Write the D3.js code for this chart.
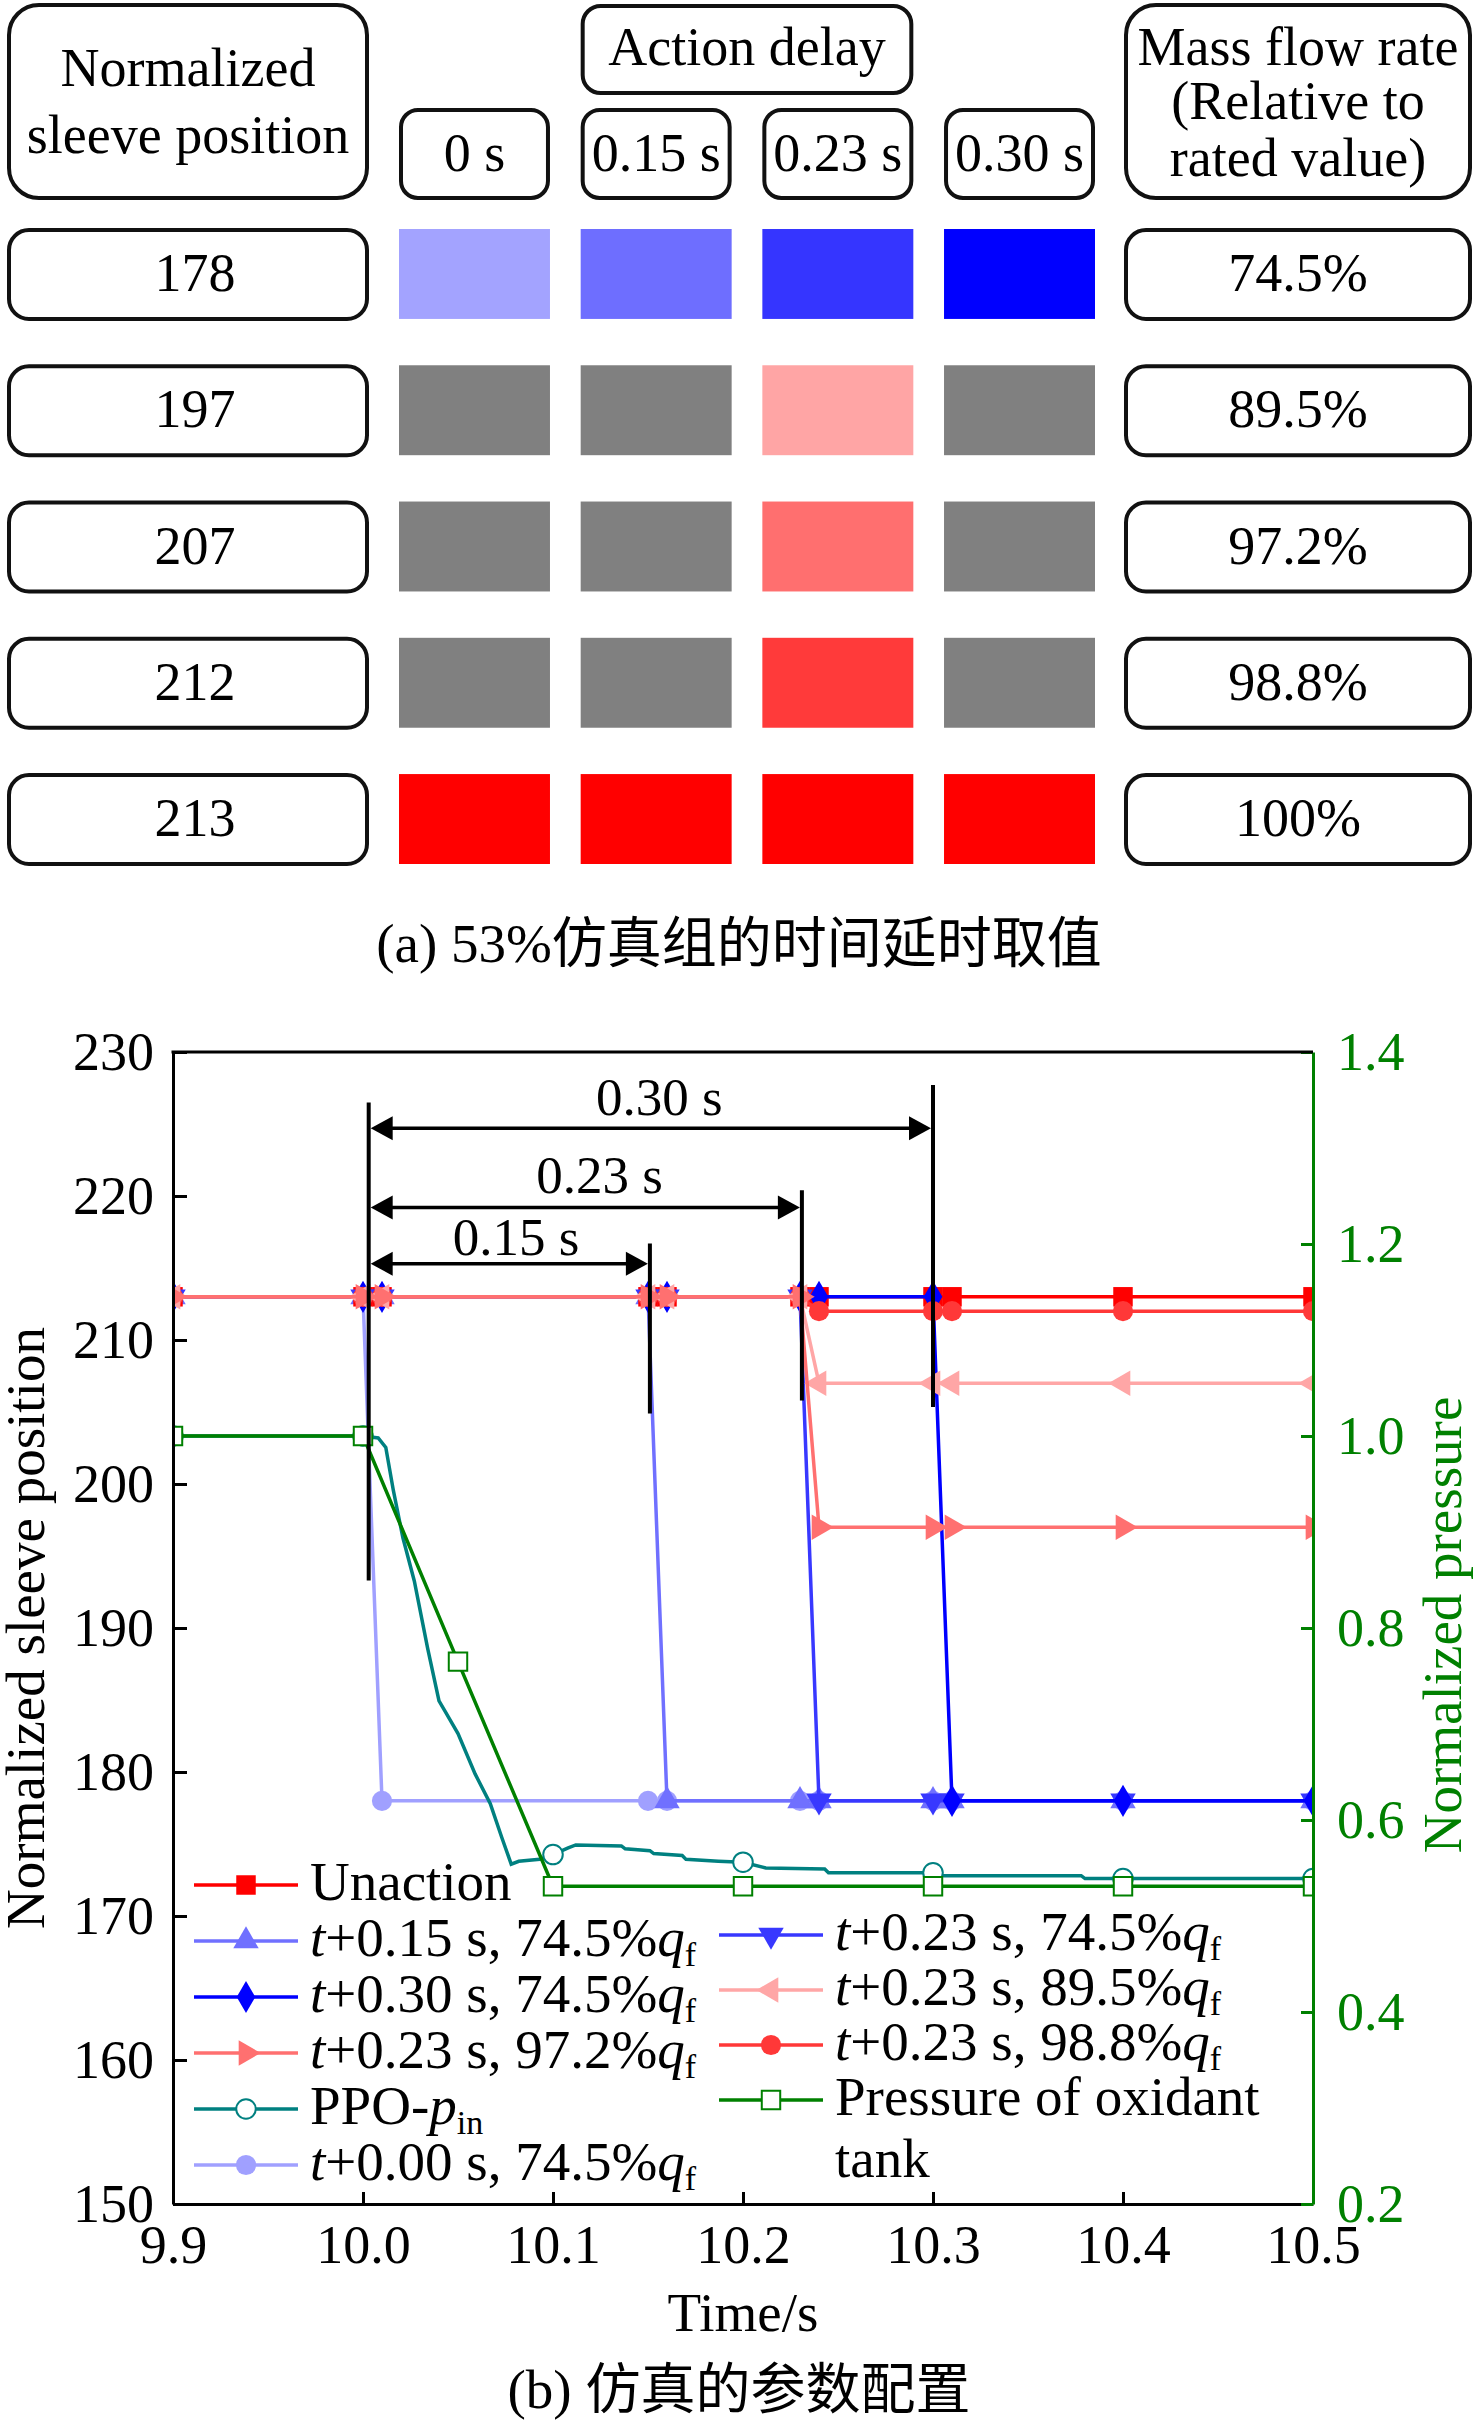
<!DOCTYPE html>
<html>
<head>
<meta charset="utf-8">
<script src="https://cdn.jsdelivr.net/npm/d3@7"></script>
<style>
  body { margin: 0; background: #fff; }
  svg { display: block; }
  text { font-family: "Liberation Serif", "Times New Roman", "Noto Sans CJK SC", serif; }
</style>
</head>
<body>
<svg id="chart" width="1476" height="2424"></svg>
<script>
// ---------- (a) table data
const sleevePositions = ["178", "197", "207", "212", "213"];
const delayLabels = ["0 s", "0.15 s", "0.23 s", "0.30 s"];
const flowRates = ["74.5%", "89.5%", "97.2%", "98.8%", "100%"];
// which delay/position combination was simulated, per row
const cellState = [
    ["b0", "b1", "b2", "b3"],
    ["off", "off", "r1", "off"],
    ["off", "off", "r2", "off"],
    ["off", "off", "r3", "off"],
    ["r4", "r4", "r4", "r4"]
];

// ---------- (b) chart data
const sampleT = [9.9, 10.0, 10.01, 10.15, 10.16, 10.23, 10.24, 10.30, 10.31, 10.40, 10.50];
const posUnaction = [213, 213, 213, 213, 213, 213, 213, 213, 213, 213, 213];
const pos000 = [213, 213, 178, 178, 178, 178, 178, 178, 178, 178, 178];
const pos015 = [213, 213, 213, 213, 178, 178, 178, 178, 178, 178, 178];
const pos023_745 = [213, 213, 213, 213, 213, 213, 178, 178, 178, 178, 178];
const pos030 = [213, 213, 213, 213, 213, 213, 213, 213, 178, 178, 178];
const pos023_895 = [213, 213, 213, 213, 213, 213, 207, 207, 207, 207, 207];
const pos023_972 = [213, 213, 213, 213, 213, 213, 197, 197, 197, 197, 197];
const pos023_988 = [213, 213, 213, 213, 213, 213, 212, 212, 212, 212, 212];

const ppoT = [9.9, 10.0, 10.008, 10.012, 10.016, 10.021, 10.027, 10.034, 10.040, 10.043,
    10.050, 10.059, 10.067, 10.073, 10.078, 10.082, 10.093, 10.1, 10.108, 10.112,
    10.136, 10.138, 10.151, 10.153, 10.168, 10.170, 10.187, 10.2, 10.212, 10.243,
    10.245, 10.3, 10.303, 10.378, 10.380, 10.4, 10.5];
const ppoP = [1.0, 1.0, 0.998, 0.988, 0.943, 0.894, 0.849, 0.779, 0.724, 0.714,
    0.690, 0.648, 0.617, 0.582, 0.554, 0.557, 0.559, 0.564, 0.571, 0.574,
    0.573, 0.570, 0.568, 0.565, 0.563, 0.559, 0.557, 0.556, 0.550, 0.549,
    0.545, 0.545, 0.542, 0.542, 0.539, 0.539, 0.539];
const ppoMarkT = [9.9, 10.0, 10.1, 10.2, 10.3, 10.4, 10.5];
const tankT = [9.9, 10.0, 10.05, 10.1, 10.2, 10.3, 10.4, 10.5];
const tankP = [1.0, 1.0, 0.765, 0.531, 0.531, 0.531, 0.531, 0.531];

const xTicks = [9.9, 10.0, 10.1, 10.2, 10.3, 10.4, 10.5];
const yTicks = [150, 160, 170, 180, 190, 200, 210, 220, 230];
const pTicks = [0.2, 0.4, 0.6, 0.8, 1.0, 1.2, 1.4];

// delay annotations
const markT = [10.003, 10.151, 10.231, 10.300];
const markTop = [226.5, 216.7, 220.4, 227.7];
const markBottom = [193.3, 204.9, 205.8, 205.35];
const spanLabels = ["0.30 s", "0.23 s", "0.15 s"];
const spanEndT = [10.300, 10.231, 10.151];
const spanY = [224.7, 219.2, 215.3];
const spanLabelT = [10.156, 10.1245, 10.0805];
const spanLabelY = [225.6, 220.2, 215.9];

const svg = d3.select("#chart");

// ================= (a) table =================
const colX = d3.scaleBand().domain(delayLabels).range([399, 1095]).paddingInner(0.169);
const rowY = d3.scaleBand().domain(sleevePositions).range([228, 866]).paddingInner(0.318);
const cellColor = d3.scaleOrdinal()
    .domain(["b0", "b1", "b2", "b3", "off", "r1", "r2", "r3", "r4"])
    .range(["#a3a3ff", "#6e6eff", "#3535ff", "#0000ff", "#808080", "#ffa5a5", "#ff6f6f", "#ff3a3a", "#ff0000"]);

const tbl = svg.append("g");

function box(x, y, w, h, rx) {
    tbl.append("rect")
        .attr("x", x + 2).attr("y", y + 2)
        .attr("width", w - 4).attr("height", h - 4)
        .attr("rx", rx).attr("fill", "#fff")
        .attr("stroke", "#111").attr("stroke-width", 4);
}
function lines(cx, baselines, strs, size) {
    strs.forEach((s, i) => {
        tbl.append("text").attr("x", cx).attr("y", baselines[i])
            .attr("text-anchor", "middle").attr("font-size", size).text(s);
    });
}

// header
box(7, 3, 362, 197, 30);
lines(188, [86, 153], ["Normalized", "sleeve position"], 54);
box(1124, 3, 348, 197, 30);
lines(1298, [65, 119, 176], ["Mass flow rate", "(Relative to", "rated value)"], 54);
const adX = colX(delayLabels[1]);
box(adX, 4, colX(delayLabels[2]) + colX.bandwidth() - adX, 91, 18);
lines(adX + (colX(delayLabels[2]) + colX.bandwidth() - adX) / 2, [65], ["Action delay"], 54);
delayLabels.forEach(d => {
    box(colX(d), 108, colX.bandwidth(), 92, 17);
    lines(colX(d) + colX.bandwidth() / 2, [171], [d], 54);
});

// rows
sleevePositions.forEach((p, i) => {
    const y = rowY(p), h = rowY.bandwidth();
    box(7, y, 362, h, 20);
    lines(195, [y + 63], [p], 54);
    box(1124, y, 348, h, 20);
    lines(1298, [y + 63], [flowRates[i]], 54);
    delayLabels.forEach((d, j) => {
        tbl.append("rect")
            .attr("x", colX(d)).attr("y", y + 1)
            .attr("width", colX.bandwidth()).attr("height", h - 3)
            .attr("fill", cellColor(cellState[i][j]));
    });
});

svg.append("text").attr("x", 739).attr("y", 962).attr("text-anchor", "middle")
    .attr("font-size", 55).text("(a) 53%仿真组的时间延时取值");

// ================= (b) chart =================
const L = 173, R = 1313, T = 1052, B = 2204;
const x = d3.scaleLinear().domain([9.9, 10.5]).range([L, R]);
const y = d3.scaleLinear().domain([150, 230]).range([B, T]);
const yP = d3.scaleLinear().domain([0.2, 1.4]).range([B, T]);

const green = "#008000";

svg.append("clipPath").attr("id", "plotclip")
    .append("rect").attr("x", L).attr("y", T).attr("width", R - L).attr("height", B - T);

const shapes = {
    square: { type: d3.symbolSquare, size: 380, rot: 0 },
    circle: { type: d3.symbolCircle, size: 320, rot: 0 },
    up: { type: d3.symbolTriangle, size: 280, rot: 0 },
    down: { type: d3.symbolTriangle, size: 280, rot: 180 },
    left: { type: d3.symbolTriangle, size: 280, rot: -90 },
    right: { type: d3.symbolTriangle, size: 280, rot: 90 },
    diamond: { type: d3.symbolDiamond, size: 300, rot: 0 }
};

const sleeveSeries = [
    { key: "d000", data: pos000, color: "#a0a0ff", shape: "circle" },
    { key: "d015", data: pos015, color: "#7070ff", shape: "up" },
    { key: "unaction", data: posUnaction, color: "#ff0000", shape: "square" },
    { key: "d023a", data: pos023_745, color: "#3838ff", shape: "down" },
    { key: "d030", data: pos030, color: "#0000ff", shape: "diamond" },
    { key: "d023d", data: pos023_988, color: "#ff3838", shape: "circle" },
    { key: "d023b", data: pos023_895, color: "#ffa6a6", shape: "left" },
    { key: "d023c", data: pos023_972, color: "#ff7070", shape: "right" }
];
const ppoStyle = { key: "ppo", color: "#008080", shape: "circle", open: true };
const tankStyle = { key: "tank", color: green, shape: "square", open: true };

function marker(g, px, py, st) {
    const s = shapes[st.shape];
    const size = st.open ? (st.shape === "square" ? 340 : 300) : s.size;
    g.append("path")
        .attr("d", d3.symbol(s.type, size)())
        .attr("transform", `translate(${px},${py}) rotate(${s.rot})`)
        .attr("fill", st.open ? "#fff" : st.color)
        .attr("stroke", st.open ? st.color : "none")
        .attr("stroke-width", 2);
}

const plot = svg.append("g").attr("clip-path", "url(#plotclip)");
const lineSleeve = d3.line().x((d, i) => x(sampleT[i])).y(d => y(d));

sleeveSeries.forEach(st => {
    plot.append("path").datum(st.data)
        .attr("d", lineSleeve)
        .attr("fill", "none").attr("stroke", st.color).attr("stroke-width", 3.5);
    st.data.forEach((v, i) => marker(plot, x(sampleT[i]), y(v), st));
});

// PPO inlet pressure (right axis)
plot.append("path").datum(ppoP)
    .attr("d", d3.line().x((d, i) => x(ppoT[i])).y(d => yP(d)))
    .attr("fill", "none").attr("stroke", ppoStyle.color).attr("stroke-width", 3.5);
ppoT.forEach((t, i) => {
    if (ppoMarkT.includes(t)) marker(plot, x(t), yP(ppoP[i]), ppoStyle);
});

// oxidant tank pressure (right axis)
plot.append("path").datum(tankP)
    .attr("d", d3.line().x((d, i) => x(tankT[i])).y(d => yP(d)))
    .attr("fill", "none").attr("stroke", green).attr("stroke-width", 3.5);
tankP.forEach((p, i) => marker(plot, x(tankT[i]), yP(p), tankStyle));

// axes
function styleAxis(g, color) {
    g.select(".domain").attr("stroke", color).attr("stroke-width", 3);
    g.selectAll(".tick line").attr("stroke", color).attr("stroke-width", 3);
    g.selectAll(".tick text")
        .style("fill", color)
        .style("font-family", '"Liberation Serif", "Times New Roman", serif')
        .style("font-size", "54px");
}

const gx = svg.append("g").attr("transform", `translate(0,${B})`)
    .call(d3.axisBottom(x).tickValues(xTicks).tickFormat(d3.format(".1f"))
        .tickSize(-12).tickSizeOuter(0).tickPadding(21));
styleAxis(gx, "#000");

const gy = svg.append("g").attr("transform", `translate(${L},0)`)
    .call(d3.axisLeft(y).tickValues(yTicks).tickFormat(d3.format("d"))
        .tickSize(-14).tickSizeOuter(0).tickPadding(19));
styleAxis(gy, "#000");

const gp = svg.append("g").attr("transform", `translate(${R},0)`)
    .call(d3.axisRight(yP).tickValues(pTicks).tickFormat(d3.format(".1f"))
        .tickSize(-12).tickSizeOuter(0).tickPadding(24));
styleAxis(gp, green);

svg.append("line").attr("x1", L - 1.5).attr("x2", R).attr("y1", T).attr("y2", T)
    .attr("stroke", "#000").attr("stroke-width", 3);

// axis titles
svg.append("text").attr("transform", `translate(44,1628) rotate(-90)`)
    .attr("text-anchor", "middle").attr("font-size", 55).text("Normalized sleeve position");
svg.append("text").attr("transform", `translate(1461,1625) rotate(-90)`)
    .attr("text-anchor", "middle").attr("font-size", 55).style("fill", green).text("Normalized pressure");
svg.append("text").attr("x", (L + R) / 2).attr("y", 2331)
    .attr("text-anchor", "middle").attr("font-size", 55).text("Time/s");
svg.append("text").attr("x", 739).attr("y", 2408)
    .attr("text-anchor", "middle").attr("font-size", 55).text("(b) 仿真的参数配置");

// delay annotations
const ann = svg.append("g");
markT.forEach((t, i) => {
    ann.append("line")
        .attr("x1", x(t)).attr("x2", x(t))
        .attr("y1", y(markTop[i])).attr("y2", y(markBottom[i]))
        .attr("stroke", "#000").attr("stroke-width", 4);
});
const headL = 22, headW = 12;
spanEndT.forEach((t, i) => {
    const x0 = x(markT[0]) + 2, x1 = x(t) - 2, yy = y(spanY[i]);
    ann.append("line").attr("x1", x0 + headL - 2).attr("x2", x1 - headL + 2)
        .attr("y1", yy).attr("y2", yy).attr("stroke", "#000").attr("stroke-width", 3.5);
    ann.append("path")
        .attr("d", `M${x0},${yy}L${x0 + headL},${yy - headW}L${x0 + headL},${yy + headW}Z`)
        .attr("fill", "#000");
    ann.append("path")
        .attr("d", `M${x1},${yy}L${x1 - headL},${yy - headW}L${x1 - headL},${yy + headW}Z`)
        .attr("fill", "#000");
    ann.append("text").attr("x", x(spanLabelT[i])).attr("y", y(spanLabelY[i]))
        .attr("text-anchor", "middle").attr("font-size", 53).text(spanLabels[i]);
});

// legend
const legendLeft = [
    { st: "unaction", parts: [["Unaction"]] },
    { st: "d015", parts: [["t", "i"], ["+0.15 s, 74.5%"], ["q", "i"], ["f", "sub"]] },
    { st: "d030", parts: [["t", "i"], ["+0.30 s, 74.5%"], ["q", "i"], ["f", "sub"]] },
    { st: "d023c", parts: [["t", "i"], ["+0.23 s, 97.2%"], ["q", "i"], ["f", "sub"]] },
    { st: "ppo", parts: [["PPO-"], ["p", "i"], ["in", "sub"]] },
    { st: "d000", parts: [["t", "i"], ["+0.00 s, 74.5%"], ["q", "i"], ["f", "sub"]] }
];
const legendRight = [
    { st: "d023a", parts: [["t", "i"], ["+0.23 s, 74.5%"], ["q", "i"], ["f", "sub"]] },
    { st: "d023b", parts: [["t", "i"], ["+0.23 s, 89.5%"], ["q", "i"], ["f", "sub"]] },
    { st: "d023d", parts: [["t", "i"], ["+0.23 s, 98.8%"], ["q", "i"], ["f", "sub"]] },
    { st: "tank", parts: [["Pressure of oxidant"]], second: "tank" }
];
const allStyles = sleeveSeries.concat([ppoStyle, tankStyle]);
const leg = svg.append("g");

function legendRow(x0, yy, entry) {
    const st = allStyles.find(s => s.key === entry.st);
    leg.append("line").attr("x1", x0).attr("x2", x0 + 104).attr("y1", yy).attr("y2", yy)
        .attr("stroke", st.color).attr("stroke-width", 3.5);
    marker(leg, x0 + 52, yy, st);
    const t = leg.append("text").attr("x", x0 + 116).attr("y", yy + 15).attr("font-size", 55);
    entry.parts.forEach(([s, kind]) => {
        const ts = t.append("tspan").text(s);
        if (kind === "i") ts.attr("font-style", "italic");
        if (kind === "sub") ts.attr("font-size", 34).attr("dy", 10);
    });
    if (entry.second) {
        leg.append("text").attr("x", x0 + 116).attr("y", yy + 77).attr("font-size", 55).text(entry.second);
    }
}
legendLeft.forEach((e, i) => legendRow(194, 1885 + 56 * i, e));
legendRight.forEach((e, i) => legendRow(719, 1935 + 55 * i, e));
</script>
</body>
</html>
